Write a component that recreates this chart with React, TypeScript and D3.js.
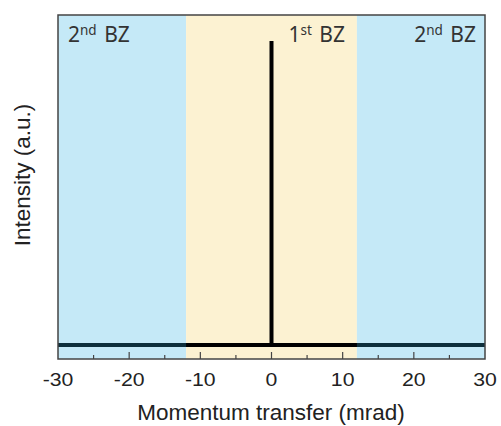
import React, { useRef, useEffect } from 'react';
import * as d3 from 'd3';

// momentum transfer (mrad) and intensity (a.u.)
const momentum = [-30, -12, 0, 0, 0, 12, 30];
const intensity = [0, 0, 0, 1, 0, 0, 0];

// Brillouin zone bands
const zoneNames = ['2nd', '1st', '2nd'];
const zoneStart = [-30, -12, 12];
const zoneEnd = [-12, 12, 30];

const xTicks = [-30, -20, -10, 0, 10, 20, 30];
const xMinorTicks = [-25, -15, -5, 5, 15, 25];

const App = () => {
  const svgRef = useRef<SVGSVGElement>(null);

  useEffect(() => {
    const svg = d3.select(svgRef.current);
    svg.selectAll('*').remove();

    const left = 58, right = 485, top = 15, bottom = 359;
    const x = d3.scaleLinear().domain([-30, 30]).range([left, right]);
    const y = d3.scaleLinear().domain([-0.046, 1.0855]).range([bottom, top]);

    const zones = zoneNames.map((n, i) => ({ name: n, x0: zoneStart[i], x1: zoneEnd[i] }));
    const fillFor = (n: string) => (n === '1st' ? '#fcf2d2' : '#c5e9f7');

    svg.append('g')
      .selectAll('rect')
      .data(zones)
      .enter().append('rect')
      .attr('x', d => x(d.x0))
      .attr('y', top)
      .attr('width', d => x(d.x1) - x(d.x0))
      .attr('height', bottom - top)
      .attr('fill', d => fillFor(d.name));

    const pts = momentum.map((m, i) => [m, intensity[i]] as [number, number]);
    const line = d3.line<[number, number]>().x(d => x(d[0])).y(d => y(d[1]));

    // clip for the blue (2nd BZ) parts so the trace looks tinted there
    const defs = svg.append('defs');
    const clip = defs.append('clipPath').attr('id', 'bz2');
    zones.filter(z => z.name === '2nd').forEach(z => {
      clip.append('rect')
        .attr('x', x(z.x0)).attr('y', top)
        .attr('width', x(z.x1) - x(z.x0)).attr('height', bottom - top);
    });

    svg.append('path')
      .datum(pts)
      .attr('d', line)
      .attr('fill', 'none')
      .attr('stroke', '#000')
      .attr('stroke-width', 4)
      .attr('stroke-linejoin', 'bevel');

    svg.append('path')
      .datum(pts)
      .attr('d', line)
      .attr('fill', 'none')
      .attr('stroke', '#0d2f3c')
      .attr('stroke-width', 4)
      .attr('clip-path', 'url(#bz2)');

    // zone labels
    const labelFont = "'Noto Sans', 'Open Sans', sans-serif";
    zones.forEach((z, i) => {
      const t = svg.append('text')
        .attr('y', 42)
        .attr('font-family', labelFont)
        .attr('font-size', 21)
        .attr('fill', '#333');
      if (i === 0) t.attr('x', x(z.x0) + 10).attr('text-anchor', 'start');
      else t.attr('x', i === 1 ? x(z.x1) - 12 : x(z.x1) - 9).attr('text-anchor', 'end');
      t.append('tspan').text(z.name[0]);
      t.append('tspan').attr('font-size', 13.5).attr('dy', -7).text(z.name.slice(1));
      t.append('tspan').attr('dy', 7).attr('dx', 2).text(' BZ');
    });

    // frame
    svg.append('rect')
      .attr('x', left).attr('y', top)
      .attr('width', right - left).attr('height', bottom - top)
      .attr('fill', 'none')
      .attr('stroke', '#444')
      .attr('stroke-width', 1.5);

    // inward ticks on bottom axis
    const axisG = svg.append('g').attr('transform', `translate(0,${bottom})`);
    axisG.selectAll('line.major')
      .data(xTicks.slice(1, -1))
      .enter().append('line')
      .attr('x1', d => x(d)).attr('x2', d => x(d))
      .attr('y1', 0).attr('y2', -7)
      .attr('stroke', '#444').attr('stroke-width', 1.2);
    axisG.selectAll('line.minor')
      .data(xMinorTicks)
      .enter().append('line')
      .attr('x1', d => x(d)).attr('x2', d => x(d))
      .attr('y1', 0).attr('y2', -4)
      .attr('stroke', '#444').attr('stroke-width', 1.2);

    const axisFont = "'Liberation Sans', Arial, sans-serif";
    axisG.selectAll('text')
      .data(xTicks)
      .enter().append('text')
      .attr('transform', d => `translate(${x(d)},27) scale(1.18,1)`)
      .attr('text-anchor', 'middle')
      .attr('font-family', axisFont)
      .attr('font-size', 18)
      .attr('fill', '#222')
      .text(d => String(d));

    svg.append('text')
      .attr('x', (137 + 405) / 2)
      .attr('y', 420)
      .attr('text-anchor', 'middle')
      .attr('font-family', axisFont)
      .attr('font-size', 22.5)
      .attr('fill', '#222')
      .text('Momentum transfer (mrad)');

    svg.append('text')
      .attr('transform', `translate(29.5,175) rotate(-90)`)
      .attr('text-anchor', 'middle')
      .attr('font-family', axisFont)
      .attr('font-size', 22.5)
      .attr('fill', '#222')
      .text('Intensity (a.u.)');
  }, []);

  return (
    <svg ref={svgRef} width={501} height={426}
      style={{ position: 'absolute', left: 0, top: 0, background: '#fff' }} />
  );
};

export default App;
